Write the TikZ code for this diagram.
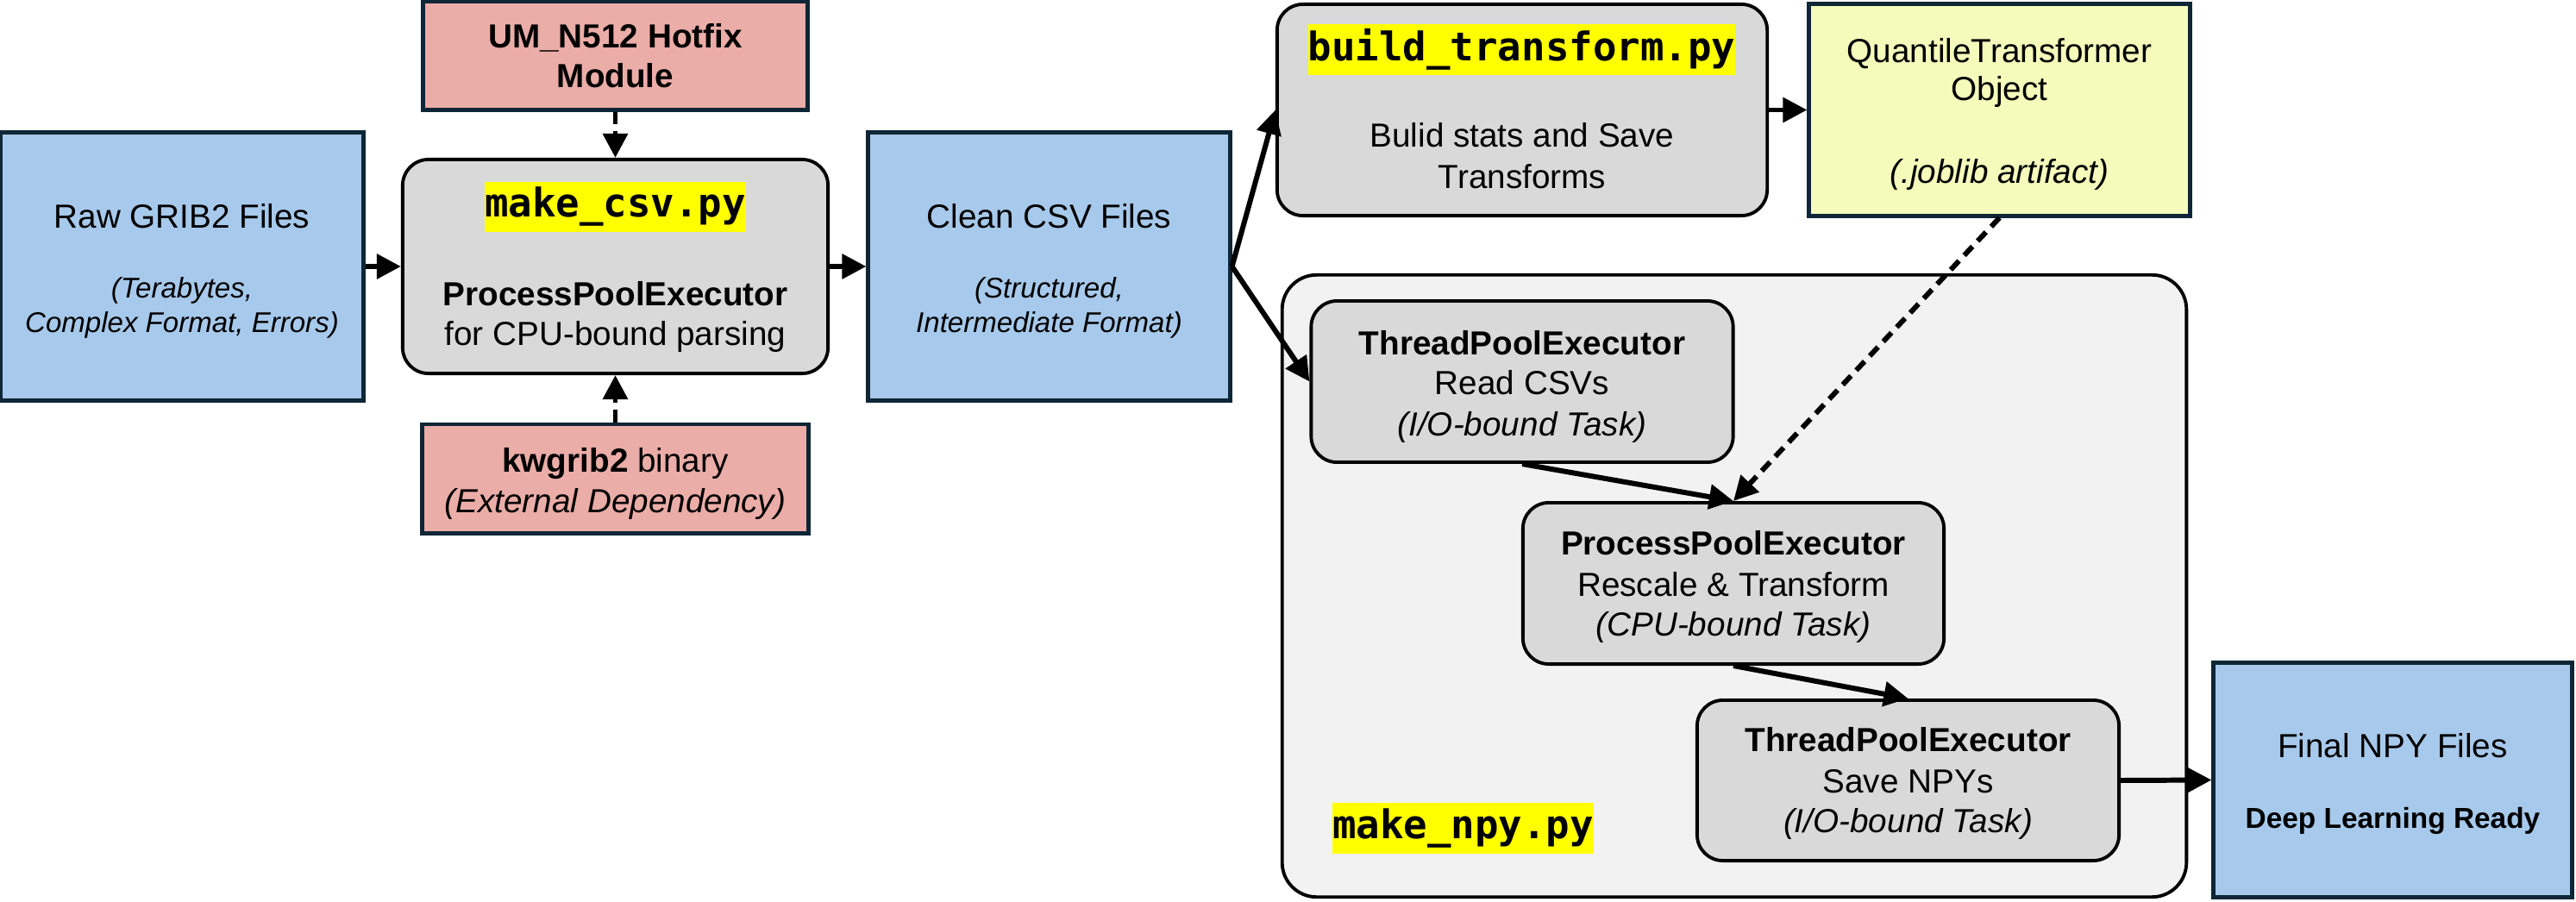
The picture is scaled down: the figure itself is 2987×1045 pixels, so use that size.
\documentclass[tikz,border=0pt]{standalone}
\usepackage{fontspec}
\setmainfont{Liberation Sans}
\newfontfamily\codefont{DejaVu Sans Mono}
\usetikzlibrary{arrows.meta}
\definecolor{boxblue}{HTML}{A7C9EB}
\definecolor{boxpink}{HTML}{EBADA8}
\definecolor{boxgray}{HTML}{D9D9D9}
\definecolor{contgray}{HTML}{F2F2F2}
\definecolor{boxyellow}{HTML}{F4FBBB}
\definecolor{navy}{HTML}{0E2636}
\definecolor{hlyellow}{HTML}{FFFF00}
\tikzset{
  colbox/.style={draw=navy, line width=1.4pt, inner sep=0pt},
  bluebox/.style={colbox, fill=boxblue},
  pinkbox/.style={colbox, fill=boxpink},
  yelbox/.style={colbox, fill=boxyellow},
  graybox/.style={draw=black, fill=boxgray, line width=1.1pt, rounded corners=0.3cm, inner sep=0pt},
  contbox/.style={draw=black, fill=contgray, line width=1.1pt, rounded corners=0.4cm, inner sep=0pt},
  txt/.style={anchor=base, inner sep=0pt, font=\fontsize{11pt}{13pt}\selectfont},
  btxt/.style={txt, font=\fontsize{11pt}{13pt}\selectfont\bfseries},
  itxt/.style={txt, font=\fontsize{11pt}{13pt}\selectfont\itshape},
  smit/.style={anchor=base, inner sep=0pt, font=\fontsize{9.4pt}{11pt}\selectfont\itshape},
  smbf/.style={anchor=base, inner sep=0pt, font=\fontsize{9.5pt}{11pt}\selectfont\bfseries},
  code/.style={fill=hlyellow, inner xsep=0pt, inner ysep=0pt, minimum height=0.58cm, font=\fontsize{13pt}{15pt}\selectfont\codefont\bfseries},
  flow/.style={line width=1.7pt, -{Triangle[length=8pt,width=8pt]}},
  dep/.style={flow, dash pattern=on 4pt off 2.5pt},
}
\begin{document}
\begin{tikzpicture}[x=0.01cm, y=-0.01cm]
\path[use as bounding box] (0,0) rectangle (2987,1045);

% container
\node[contbox, minimum width=10.48cm, minimum height=7.21cm] (cont) at (2011,679.5) {};

% boxes
\node[bluebox, minimum width=4.20cm, minimum height=3.10cm] (raw) at (211,309) {};
\node[pinkbox, minimum width=4.45cm, minimum height=1.25cm] (umn) at (713.5,64.5) {};
\node[graybox, minimum width=4.93cm, minimum height=2.48cm] (csvmk) at (713.5,309) {};
\node[pinkbox, minimum width=4.47cm, minimum height=1.26cm] (kw) at (713.5,555) {};
\node[bluebox, minimum width=4.19cm, minimum height=3.10cm] (clean) at (1216.5,309) {};
\node[graybox, minimum width=5.68cm, minimum height=2.45cm] (build) at (1765,127.5) {};
\node[yelbox, minimum width=4.41cm, minimum height=2.45cm] (quant) at (2318.5,127.5) {};
\node[graybox, minimum width=4.89cm, minimum height=1.87cm] (tp1) at (1765,442.5) {};
\node[graybox, minimum width=4.88cm, minimum height=1.87cm] (pp2) at (2010,676.5) {};
\node[graybox, minimum width=4.89cm, minimum height=1.86cm] (tp3) at (2212.5,905) {};
\node[bluebox, minimum width=4.15cm, minimum height=2.71cm] (final) at (2774.5,904.5) {};

% texts
\node[txt] (rawa) at (211,264) {Raw GRIB2 Files};
\node[smit] (rawb) at (211,345) {(Terabytes,};
\node[smit] (rawc) at (211,385) {Complex Format, Errors)};

\node[btxt] (umna) at (713.5,55) {UM\_N512 Hotfix};
\node[btxt] (umnb) at (713.5,101) {Module};

\node[code] (csvcode) at (713.5,240) {make\_csv.py};
\node[btxt] (csva) at (713.5,354) {ProcessPoolExecutor};
\node[txt] (csvb) at (713.5,400) {for CPU-bound parsing};

\node[txt] (kwa) at (713.5,547) {\textbf{kwgrib2} binary};
\node[itxt] (kwb) at (713.5,594) {(External Dependency)};

\node[txt] (cleana) at (1216.5,264) {Clean CSV Files};
\node[smit] (cleanb) at (1216.5,345) {(Structured,};
\node[smit] (cleanc) at (1216.5,385) {Intermediate Format)};

\node[code] (buildcode) at (1764.5,57.5) {build\_transform.py};
\node[txt] (builda) at (1765,170) {Bulid stats and Save};
\node[txt] (buildb) at (1765,218) {Transforms};

\node[txt] (quanta) at (2318.5,72) {QuantileTransformer};
\node[txt] (quantb) at (2318.5,116) {Object};
\node[itxt] (quantc) at (2318.5,212) {(.joblib artifact)};

\node[btxt] (tp1a) at (1765,411) {ThreadPoolExecutor};
\node[txt] (tp1b) at (1765,457) {Read CSVs};
\node[itxt] (tp1c) at (1765,505) {(I/O-bound Task)};

\node[btxt] (pp2a) at (2010,643) {ProcessPoolExecutor};
\node[txt] (pp2b) at (2010,691) {Rescale \& Transform};
\node[itxt] (pp2c) at (2010,737) {(CPU-bound Task)};

\node[btxt] (tp3a) at (2212.5,871) {ThreadPoolExecutor};
\node[txt] (tp3b) at (2212.5,919) {Save NPYs};
\node[itxt] (tp3c) at (2212.5,965) {(I/O-bound Task)};

\node[txt] (finala) at (2774.5,878) {Final NPY Files};
\node[smbf] (finalb) at (2774.5,960) {Deep Learning Ready};

\node[code] (npycode) at (1696.5,960.5) {make\_npy.py};

% connectors
\draw[flow] (raw.east) -- (csvmk.west);
\draw[dep] (umn.south) -- (csvmk.north);
\draw[dep] (kw.north) -- (csvmk.south);
\draw[flow] (csvmk.east) -- (clean.west);
\draw[flow] (clean.east) -- (build.west);
\draw[flow] (clean.east) -- (tp1.west);
\draw[flow] (build.east) -- (quant.west);
\draw[dep] (quant.south) -- (pp2.north);
\draw[flow] (tp1.south) -- (pp2.north);
\draw[flow] (pp2.south) -- (tp3.north);
\draw[flow] (tp3.east) -- (final.west);
\end{tikzpicture}
\end{document}
